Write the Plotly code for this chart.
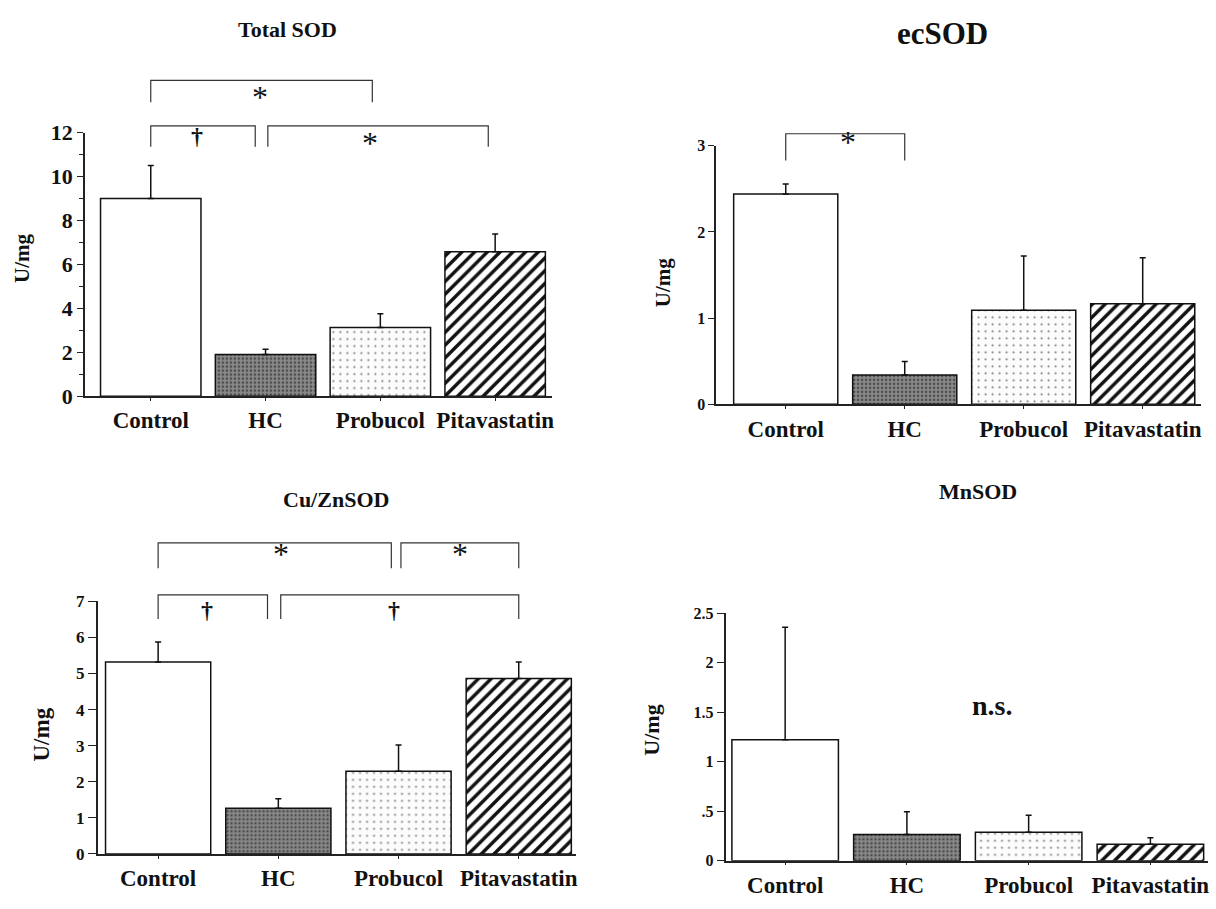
import plotly.graph_objects as go

categories = ["Control", "HC", "Probucol", "Pitavastatin"]

# Panel values (mean, top of error bar)
total_sod_mean = [9.0, 1.9, 3.13, 6.57]
total_sod_err_top = [10.5, 2.13, 3.75, 7.38]

ecsod_mean = [2.44, 0.34, 1.09, 1.165]
ecsod_err_top = [2.556, 0.496, 1.72, 1.70]

cuzn_mean = [5.32, 1.265, 2.29, 4.86]
cuzn_err_top = [5.87, 1.53, 3.02, 5.32]

mn_mean = [1.222, 0.265, 0.288, 0.167]
mn_err_top = [2.36, 0.495, 0.459, 0.233]

titles = ["Total SOD", "ecSOD", "Cu/ZnSOD", "MnSOD"]
y_label = "U/mg"

# significance brackets: (x_start, x_end, y_top, y_leg) in data units
total_sod_brackets = [(0, 1.93, 14.38, 13.38), (0, 0.91, 12.31, 11.36), (1.02, 2.94, 12.31, 11.36)]
total_sod_marks = [(0.95, 14.87, "*"), (0.40, 12.7, "†"), (1.91, 12.74, "*")]
ecsod_brackets = [(0, 1, 3.14, 2.83)]
ecsod_marks = [(0.52, 3.36, "*")]
cuzn_brackets = [(0, 1.94, 8.62, 7.92), (2.02, 3.0, 8.62, 7.92), (0, 0.91, 7.18, 6.51), (1.02, 3.0, 7.18, 6.51)]
cuzn_marks = [(1.02, 9.06, "*"), (2.51, 9.06, "*"), (0.41, 7.3, "†"), (1.96, 7.3, "†")]
mn_brackets = []
mn_marks = [(1.70, 1.566, "n.s.")]

W, H = 1216, 909
FONT = "Liberation Serif"

panels = [
    dict(mean=total_sod_mean, top=total_sod_err_top, ymax=12, yt=[0, 2, 4, 6, 8, 10, 12],
         ytt=["0", "2", "4", "6", "8", "10", "12"], px=(85, 553), py=(124, 395), xr=[-0.574, 3.496],
         tickfs=22, ticklen=6, minor=True, brackets=total_sod_brackets, marks=total_sod_marks,
         title_pos=(288, 18), title_fs=22, ylab_pos=(22, 253), ylab_fs=21, xfs=23),
    dict(mean=ecsod_mean, top=ecsod_err_top, ymax=3, yt=[0, 1, 2, 3], ytt=["0", "1", "2", "3"],
         px=(717.3, 1203), py=(137.6, 403.3), xr=[-0.585, 3.49],
         tickfs=16, ticklen=6, minor=False, brackets=ecsod_brackets, marks=ecsod_marks,
         title_pos=(944, 22), title_fs=31, ylab_pos=(664, 278), ylab_fs=21, xfs=23),
    dict(mean=cuzn_mean, top=cuzn_err_top, ymax=7, yt=[0, 1, 2, 3, 4, 5, 6, 7],
         ytt=["0", "1", "2", "3", "4", "5", "6", "7"], px=(97.7, 577.4), py=(606, 865.7), xr=[-0.504, 3.48],
         tickfs=17, ticklen=8, minor=False, brackets=cuzn_brackets, marks=cuzn_marks,
         title_pos=(337, 501), title_fs=22, ylab_pos=(42, 743), ylab_fs=23, xfs=23),
    dict(mean=mn_mean, top=mn_err_top, ymax=2.5, yt=[0, 0.5, 1, 1.5, 2, 2.5],
         ytt=["0", ".5", "1", "1.5", "2", "2.5"], px=(726.7, 1209.6), py=(618.3, 872.7), xr=[-0.49, 3.47],
         tickfs=16, ticklen=7, minor=False, brackets=mn_brackets, marks=mn_marks,
         title_pos=(980, 493), title_fs=22, ylab_pos=(653, 738), ylab_fs=22, xfs=23),
]

bar_fill = [
    dict(color="white", pattern=dict(shape="")),
    dict(color="#7e7e7e", pattern=dict(shape=".", bgcolor="#8a8a8a", fgcolor="#4a4a4a", fgopacity=1,
                                       size=4, solidity=0.3)),
    dict(color="white", pattern=dict(shape=".", bgcolor="#fcfcfc", fgcolor="#7a7a7a", fgopacity=1,
                                     size=7, solidity=0.07)),
    dict(color="white", pattern=dict(shape="/", bgcolor="white", fgcolor="#111111", fgopacity=1,
                                     size=9, solidity=0.38)),
]

fig = go.Figure()
shapes = []
annotations = []

for i, p in enumerate(panels):
    n = "" if i == 0 else str(i + 1)
    xa, ya = "x" + n, "y" + n
    for j, cat in enumerate(categories):
        fig.add_trace(go.Bar(
            x=[j], y=[p["mean"][j]], width=0.875,
            xaxis=xa, yaxis=ya, showlegend=False,
            marker=dict(color=bar_fill[j]["color"], pattern=bar_fill[j]["pattern"],
                        line=dict(color="#111111", width=1.5)),
            error_y=dict(type="data", symmetric=False,
                         array=[p["top"][j] - p["mean"][j]], arrayminus=[0],
                         color="#111111", thickness=1.5, width=3),
        ))
    xdom = [p["px"][0] / W, p["px"][1] / W]
    ydom = [1 - p["py"][1] / H, 1 - p["py"][0] / H]
    fig.layout["xaxis" + n] = dict(
        domain=xdom, range=p["xr"], anchor=ya, showline=True, linecolor="#222222", linewidth=1.5,
        tickvals=list(range(4)), ticktext=categories, ticks="outside", ticklen=3, tickcolor="#222222",
        tickfont=dict(family=FONT, size=p["xfs"], color="#111111", weight="bold"),
        showgrid=False, zeroline=False, fixedrange=True,
    )
    yax = dict(
        domain=ydom, range=[0, p["ymax"]], anchor=xa, showline=True, linecolor="#222222", linewidth=1.5,
        tickvals=p["yt"], ticktext=p["ytt"], ticks="outside", ticklen=p["ticklen"], tickcolor="#222222",
        tickfont=dict(family=FONT, size=p["tickfs"], color="#111111", weight="bold"),
        showgrid=False, zeroline=False, fixedrange=True,
    )
    if p["minor"]:
        yax["minor"] = dict(tickvals=[1, 3, 5, 7, 9, 11], ticks="outside", ticklen=4, tickcolor="#222222")
    fig.layout["yaxis" + n] = yax

    for (x0, x1, yt, yl) in p["brackets"]:
        a, b = yl / p["ymax"], yt / p["ymax"]
        shapes.append(dict(type="path", xref=xa, yref=ya + " domain",
                           path=f"M {x0},{a} L {x0},{b} L {x1},{b} L {x1},{a}",
                           line=dict(color="#333333", width=1.2)))
    for (mx, my, txt) in p["marks"]:
        if txt == "*":
            fs, ys, wt = 32, -7, "normal"
        elif txt == "†":
            fs, ys, wt = 24, -4, "bold"
        else:
            fs, ys, wt = 28, 0, "bold"
        annotations.append(dict(x=mx, y=my / p["ymax"], xref=xa, yref=ya + " domain", text=txt,
                                showarrow=False, yshift=ys,
                                font=dict(family=FONT, size=fs, color="#111111", weight=wt)))
    tx, ty = p["title_pos"]
    annotations.append(dict(x=tx / W, y=1 - ty / H, xref="paper", yref="paper", text=titles[i],
                            showarrow=False, xanchor="center", yanchor="middle",
                            font=dict(family=FONT, size=p["title_fs"], color="#111111", weight="bold")))
    lx, ly = p["ylab_pos"]
    annotations.append(dict(x=lx / W, y=1 - ly / H, xref="paper", yref="paper", text=y_label,
                            showarrow=False, textangle=-90, xanchor="center", yanchor="middle",
                            font=dict(family=FONT, size=p["ylab_fs"], color="#111111", weight="bold")))

fig.update_layout(
    width=W, height=H, margin=dict(l=0, r=0, t=0, b=0),
    paper_bgcolor="white", plot_bgcolor="white",
    shapes=shapes, annotations=annotations, bargap=0.1,
)

fig.write_html("out.html", config={"displayModeBar": False},
               post_script="document.body.style.margin='0';document.body.style.overflow='hidden';")
